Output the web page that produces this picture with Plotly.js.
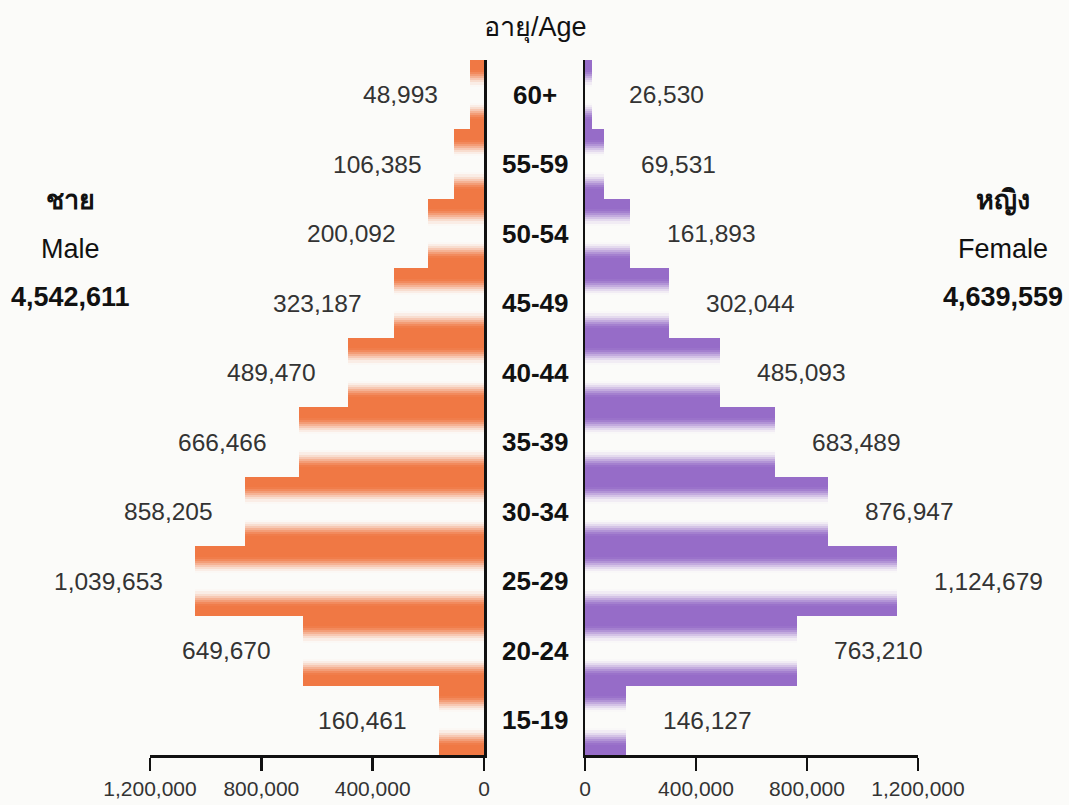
<!DOCTYPE html>
<html><head><meta charset="utf-8">
<script src="https://cdn.plot.ly/plotly-3.0.1.min.js"></script>
<style>html,body{margin:0;padding:0;background:#fbfbf9}</style>
</head><body><div id="chart" style="width:1069px;height:805px"></div>
<script>
// ---- data ----
const ageGroups = ['15-19','20-24','25-29','30-34','35-39','40-44','45-49','50-54','55-59','60+'];
const maleValues = [160461, 649670, 1039653, 858205, 666466, 489470, 323187, 200092, 106385, 48993];
const femaleValues = [146127, 763210, 1124679, 876947, 683489, 485093, 302044, 161893, 69531, 26530];
const tickValues = [0, 400000, 800000, 1200000];
const tickLabels = ['0', '400,000', '800,000', '1,200,000'];
const maleLabels = ['ชาย', 'Male', '4,542,611'];
const femaleLabels = ['หญิง', 'Female', '4,639,559'];
const axisTitle = 'อายุ/Age';

// ---- style ----
const BG = [251, 251, 249];
const ORANGE = [240, 120, 68];
const PURPLE = [150, 108, 200];
const FONT = 'Liberation Sans, Arial, Noto Sans, sans-serif';
const N = 34;

function mix(a, b, w) {
  return 'rgb(' + a.map((v, i) => Math.round(v + (b[i] - v) * w)).join(',') + ')';
}
function intensity(k) {
  const t = (k + 0.5) / N;
  const d = Math.abs(t - 0.5);
  let s = (d - 0.11) / 0.26;
  s = Math.max(0, Math.min(1, s));
  return s * s * (3 - 2 * s);
}

const traces = [];
for (let k = 0; k < N; k++) {
  const w = intensity(k);
  const common = {
    type: 'bar', orientation: 'h', y: ageGroups,
    width: 1 / N + 0.004, offset: -0.5 + k / N,
    hoverinfo: 'skip', showlegend: false
  };
  traces.push(Object.assign({}, common, {
    x: maleValues, xaxis: 'x', yaxis: 'y',
    marker: {color: mix(BG, ORANGE, w), line: {width: 0}}
  }));
  traces.push(Object.assign({}, common, {
    x: femaleValues, xaxis: 'x2', yaxis: 'y2',
    marker: {color: mix(BG, PURPLE, w), line: {width: 0}}
  }));
}

const fmt = v => v.toLocaleString('en-US');
const annotations = [];
ageGroups.forEach((g, i) => {
  annotations.push({text: '<b>' + g + '</b>', x: 0.5005, xref: 'paper', y: g, yref: 'y',
    showarrow: false, xanchor: 'center', yanchor: 'middle', font: {size: 26, color: '#111', family: FONT}});
  annotations.push({text: fmt(maleValues[i]), x: maleValues[i], xref: 'x', y: g, yref: 'y',
    showarrow: false, xanchor: 'right', yanchor: 'middle', xshift: -30, font: {size: 24.5, color: '#333', family: FONT}});
  annotations.push({text: fmt(femaleValues[i]), x: femaleValues[i], xref: 'x2', y: g, yref: 'y2',
    showarrow: false, xanchor: 'left', yanchor: 'middle', xshift: 35, font: {size: 24.5, color: '#333', family: FONT}});
});
const sideY = [1 - 200 / 805, 1 - 249 / 805, 1 - 297 / 805];
const sideBold = [true, false, true];
maleLabels.forEach((t, i) => annotations.push({text: sideBold[i] ? '<b>' + t + '</b>' : t,
  x: 70 / 1069, y: sideY[i], xref: 'paper', yref: 'paper', showarrow: false,
  xanchor: 'center', yanchor: 'middle', font: {size: 27, color: '#111', family: FONT}}));
femaleLabels.forEach((t, i) => annotations.push({text: sideBold[i] ? '<b>' + t + '</b>' : t,
  x: 1003 / 1069, y: sideY[i], xref: 'paper', yref: 'paper', showarrow: false,
  xanchor: 'center', yanchor: 'middle', font: {size: 27, color: '#111', family: FONT}}));
annotations.push({text: axisTitle, x: 535 / 1069, y: 1 - 28 / 805, xref: 'paper', yref: 'paper',
  showarrow: false, xanchor: 'center', yanchor: 'middle', font: {size: 27, color: '#111', family: FONT}});

const xCommon = {
  showline: true, linecolor: '#111', linewidth: 2.5, ticks: 'outside', ticklen: 13,
  tickwidth: 2.5, tickcolor: '#111', tickvals: tickValues, ticktext: tickLabels,
  tickfont: {size: 21, color: '#333', family: FONT}, showgrid: false, zeroline: false,
  fixedrange: true
};
const yCommon = {
  type: 'category', categoryorder: 'array', categoryarray: ageGroups,
  domain: [50 / 805, 1 - 60 / 805], range: [-0.5, ageGroups.length - 0.5],
  showline: true, linecolor: '#111', linewidth: 2.5, showticklabels: false, ticks: '',
  showgrid: false, zeroline: false, fixedrange: true
};

const layout = {
  width: 1069, height: 805,
  margin: {l: 0, r: 0, t: 0, b: 0},
  paper_bgcolor: 'rgb(251,251,249)', plot_bgcolor: 'rgba(0,0,0,0)',
  barmode: 'overlay', bargap: 0,
  font: {family: FONT},
  xaxis: Object.assign({}, xCommon, {domain: [150 / 1069, 484 / 1069], range: [1200000, 0], anchor: 'y'}),
  xaxis2: Object.assign({}, xCommon, {domain: [585 / 1069, 918 / 1069], range: [0, 1200000], anchor: 'y2'}),
  yaxis: Object.assign({}, yCommon, {anchor: 'x', side: 'right'}),
  yaxis2: Object.assign({}, yCommon, {anchor: 'x2', side: 'left'}),
  annotations: annotations
};

Plotly.newPlot('chart', traces, layout, {displayModeBar: false, staticPlot: true});
</script>
</body></html>
